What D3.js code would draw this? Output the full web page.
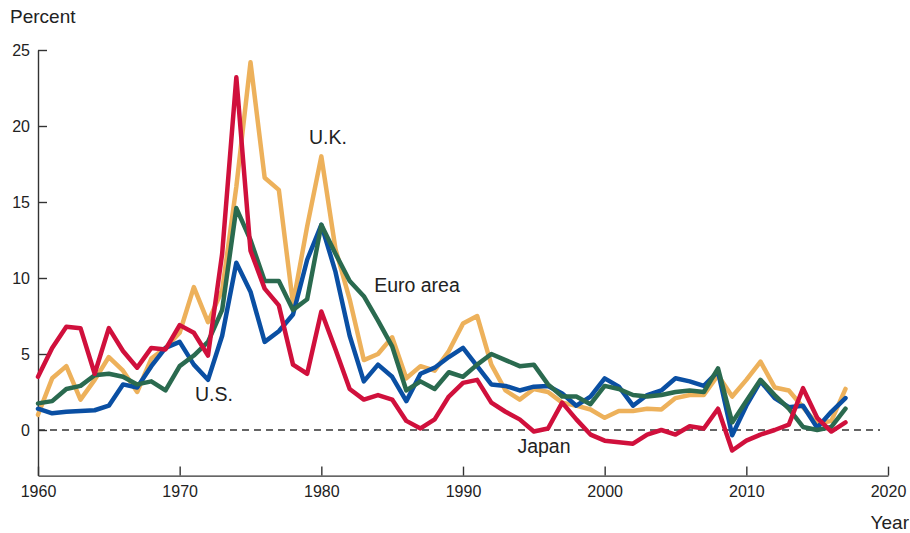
<!DOCTYPE html>
<html>
<head>
<meta charset="utf-8">
<script src="https://cdn.jsdelivr.net/npm/d3@7"></script>
<style>
  body { margin: 0; background: #fff; }
  svg { display: block; font-family: "Liberation Sans", Arial, sans-serif; }
  .axis text { font-family: "Liberation Sans Narrow", "Liberation Sans", Arial, sans-serif; font-size: 16px; fill: #222; }
  .axis path, .axis line { stroke: #333; stroke-width: 1.4px; }
</style>
</head>
<body>
<div id="chart"></div>
<script>
const width = 910;
const height = 533;

const years = d3.range(1960, 2018);

// inflation, percent
const us = [1.4, 1.1, 1.2, 1.25, 1.3, 1.6, 3.0, 2.8, 4.2, 5.4, 5.8, 4.3, 3.3, 6.2, 11.0, 9.1, 5.8, 6.5, 7.6, 11.2, 13.5, 10.4, 6.2, 3.2, 4.3, 3.5, 1.9, 3.7, 4.1, 4.8, 5.4, 4.2, 3.0, 2.9, 2.6, 2.85, 2.9, 2.4, 1.6, 2.2, 3.4, 2.85, 1.6, 2.3, 2.6, 3.4, 3.2, 2.9, 3.85, -0.35, 1.6, 3.2, 2.1, 1.5, 1.6, 0.15, 1.2, 2.1];
const uk = [1.0, 3.4, 4.2, 2.0, 3.3, 4.8, 3.9, 2.5, 4.7, 5.4, 6.4, 9.4, 7.1, 9.2, 16.0, 24.2, 16.6, 15.8, 8.3, 13.4, 18.0, 11.9, 8.6, 4.6, 5.0, 6.1, 3.4, 4.2, 3.9, 5.2, 7.0, 7.5, 4.3, 2.6, 2.0, 2.7, 2.5, 1.8, 1.6, 1.35, 0.8, 1.25, 1.25, 1.4, 1.35, 2.1, 2.3, 2.3, 3.6, 2.2, 3.3, 4.5, 2.8, 2.6, 1.5, 0.4, 0.6, 2.7];
const euro = [1.75, 1.9, 2.7, 2.9, 3.6, 3.7, 3.5, 3.0, 3.2, 2.6, 4.2, 4.9, 5.8, 7.9, 14.6, 12.5, 9.8, 9.8, 7.9, 8.6, 13.5, 11.6, 9.8, 8.8, 7.2, 5.5, 2.6, 3.2, 2.7, 3.8, 3.5, 4.3, 5.0, 4.6, 4.2, 4.3, 3.0, 2.2, 2.2, 1.7, 2.9, 2.7, 2.3, 2.2, 2.3, 2.5, 2.6, 2.5, 4.05, 0.5, 1.9, 3.3, 2.3, 1.4, 0.2, 0.0, 0.2, 1.4];
const japan = [3.5, 5.4, 6.8, 6.7, 3.7, 6.7, 5.2, 4.1, 5.4, 5.3, 6.9, 6.4, 4.9, 11.6, 23.2, 11.8, 9.3, 8.2, 4.3, 3.7, 7.8, 5.3, 2.7, 2.0, 2.3, 2.0, 0.6, 0.1, 0.7, 2.2, 3.1, 3.3, 1.8, 1.2, 0.7, -0.1, 0.1, 1.8, 0.7, -0.3, -0.7, -0.8, -0.9, -0.3, 0.0, -0.3, 0.25, 0.1, 1.4, -1.35, -0.7, -0.3, 0.0, 0.35, 2.75, 0.8, -0.1, 0.5];

const xTicks = [1960, 1970, 1980, 1990, 2000, 2010, 2020];
const yTicks = [0, 5, 10, 15, 20, 25];

const seriesList = [
  { name: 'U.K.', values: uk, color: '#edb15b', lx: 328, ly: 139 },
  { name: 'U.S.', values: us, color: '#0a4fa3', lx: 214, ly: 396 },
  { name: 'Euro area', values: euro, color: '#2a6a4f', lx: 417, ly: 287 },
  { name: 'Japan', values: japan, color: '#d0103c', lx: 544, ly: 448 },
];

const x = d3.scaleLinear().domain([1960, 2020]).range([38, 888]);
const y = d3.scaleLinear().domain([-3, 25]).range([475.6, 50]);

const svg = d3.select('#chart').append('svg')
  .attr('width', width)
  .attr('height', height);

// axes
svg.append('g')
  .attr('class', 'axis')
  .attr('transform', 'translate(0, 475.6)')
  .call(d3.axisBottom(x).tickValues(xTicks).tickFormat(d3.format('d')).tickSizeInner(-9).tickSizeOuter(0).tickPadding(10));

svg.append('g')
  .attr('class', 'axis')
  .attr('transform', 'translate(38, 0)')
  .call(d3.axisLeft(y).tickValues(yTicks).tickSizeInner(-9).tickSizeOuter(0).tickPadding(8));

// zero line
svg.append('line')
  .attr('x1', x(1960)).attr('x2', 880)
  .attr('y1', y(0)).attr('y2', y(0))
  .attr('stroke', '#333')
  .attr('stroke-width', 1.3)
  .attr('stroke-dasharray', '7,5');

const line = d3.line()
  .x((d, i) => x(years[i]))
  .y(d => y(d));

svg.selectAll('path.series')
  .data(seriesList)
  .join('path')
  .attr('class', 'series')
  .attr('d', d => line(d.values))
  .attr('fill', 'none')
  .attr('stroke', d => d.color)
  .attr('stroke-width', 4.5)
  .attr('stroke-linejoin', 'round')
  .attr('stroke-linecap', 'round');

svg.selectAll('text.label')
  .data(seriesList)
  .join('text')
  .attr('class', 'label')
  .attr('x', d => d.lx)
  .attr('y', d => d.ly)
  .attr('text-anchor', 'middle')
  .attr('dominant-baseline', 'middle')
  .attr('font-size', 19.5)
  .attr('fill', '#222')
  .text(d => d.name);

svg.append('text')
  .attr('x', 10).attr('y', 23)
  .attr('font-size', 19)
  .attr('fill', '#222')
  .text('Percent');

svg.append('text')
  .attr('x', 909).attr('y', 529)
  .attr('text-anchor', 'end')
  .attr('font-size', 19)
  .attr('fill', '#222')
  .text('Year');
</script>
</body>
</html>
